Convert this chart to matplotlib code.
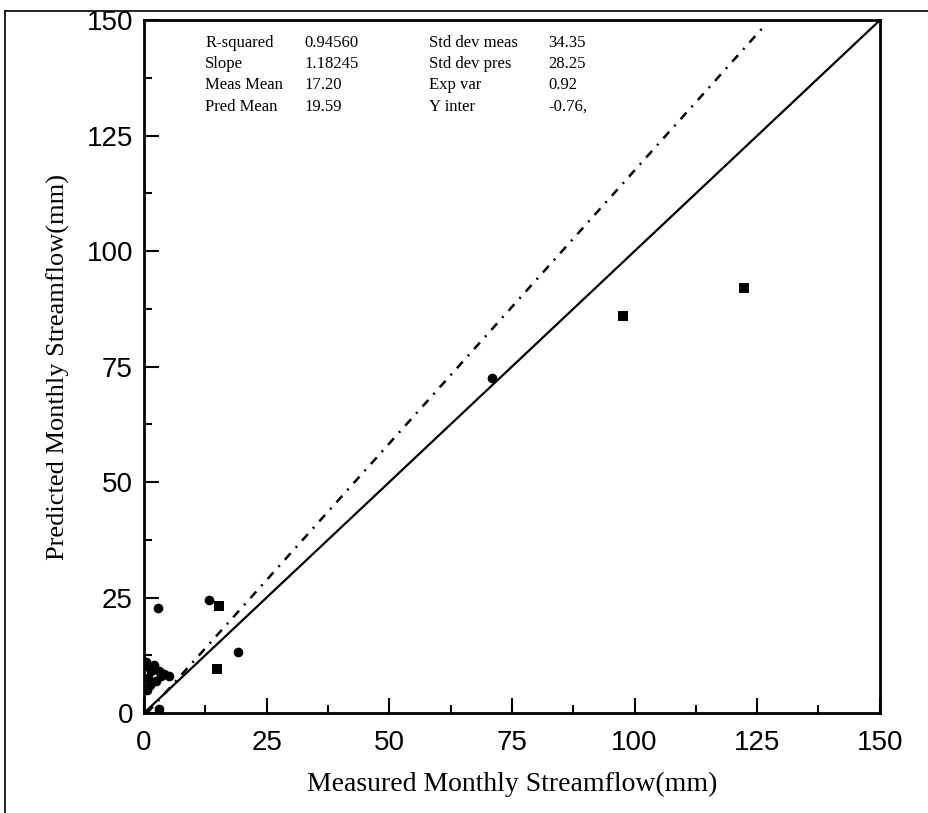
import numpy as np
import matplotlib
matplotlib.use("Agg")
import matplotlib.pyplot as plt
from matplotlib.lines import Line2D
from matplotlib.ticker import MultipleLocator

# data -----------------------------------------------------------------------
circ_meas = [0.5, 1.0, 1.5, 2.0, 0.8, 1.2, 0.6, 3.0, 4.0, 5.0, 3.5, 2.5, 3.0, 2.9, 13.2, 19.1, 71.0]
circ_pred = [11.0, 10.0, 9.0, 10.5, 7.5, 6.0, 5.0, 9.0, 8.5, 8.0, 8.0, 7.0, 0.8, 22.8, 24.5, 13.2, 72.5]
sq_meas = [15.3, 14.8, 97.7, 122.3]
sq_pred = [23.2, 9.5, 86.0, 92.0]

slope = 1.18245
y_inter = -0.76

stat_names1 = ["R-squared", "Slope", "Meas Mean", "Pred Mean"]
stat_vals1 = ["0.94560", "1.18245", "17.20", "19.59"]
stat_names2 = ["Std dev meas", "Std dev pres", "Exp var", "Y inter"]
stat_vals2 = ["34.35", "28.25", "0.92", "-0.76,"]

ticks = [0, 25, 50, 75, 100, 125, 150]

# figure ---------------------------------------------------------------------
fig = plt.figure(figsize=(9.29, 8.13), dpi=100)
ax = fig.add_axes([0.155, 0.123, 0.792, 0.852])

# 1:1 line and regression line
ax.plot([0, 150], [0, 150], color="black", lw=1.6)
xfit = np.array([-y_inter / slope, 126.5])
ax.plot(xfit, slope * xfit + y_inter, color="black", lw=1.8,
        linestyle=(0, (3.5, 3, 0.8, 3)))

ax.plot(circ_meas, circ_pred, "o", color="black", ms=7, mew=0)
ax.plot(sq_meas, sq_pred, "s", color="black", ms=6.5, mew=0)

ax.set_xlim(0, 150)
ax.set_ylim(0, 150)
ax.set_xticks(ticks)
ax.set_yticks(ticks)
ax.xaxis.set_minor_locator(MultipleLocator(12.5))
ax.yaxis.set_minor_locator(MultipleLocator(12.5))
ax.tick_params(which="both", direction="in", top=False, right=False, width=1.5)
ax.tick_params(which="major", length=11)
ax.tick_params(axis="x", which="major", pad=12)
ax.tick_params(axis="y", which="major", pad=8)
ax.tick_params(which="minor", length=6)
for lab in ax.get_xticklabels() + ax.get_yticklabels():
    lab.set_family("Liberation Sans")
    lab.set_fontsize(20)
for sp in ax.spines.values():
    sp.set_linewidth(2)

ax.set_xlabel("Measured Monthly Streamflow(mm)", family="Liberation Serif",
              fontsize=20, labelpad=12)
ax.set_ylabel("Predicted Monthly Streamflow(mm)", family="Liberation Serif",
              fontsize=19, labelpad=12)

# stats block
cols = [0.083, 0.218, 0.388, 0.55]
for i in range(4):
    yy = 0.967 - i * 0.0305
    for c, txt in zip(cols, [stat_names1[i], stat_vals1[i], stat_names2[i], stat_vals2[i]]):
        ax.text(c, yy, txt, transform=ax.transAxes, family="Liberation Serif",
                fontsize=12, va="center", ha="left")

# outer frame (top and left only)
fig.add_artist(Line2D([0.005, 1.0], [0.986, 0.986], color="black", lw=1.2))
fig.add_artist(Line2D([0.005, 0.005], [0.0, 0.986], color="black", lw=1.2))

fig.savefig("out.png", dpi=100)
